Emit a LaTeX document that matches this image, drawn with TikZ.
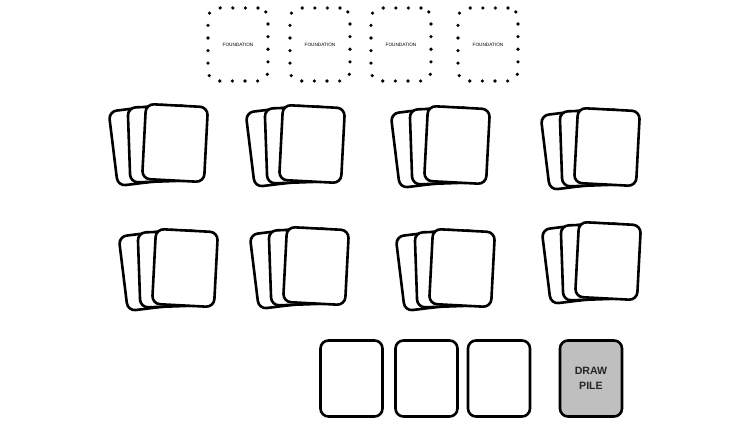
\documentclass[tikz,border=0pt]{standalone}
\usepackage{fontspec}
\setmainfont{Liberation Sans}
\begin{document}
\begin{tikzpicture}[x=1pt,y=-1pt,
  card/.style={draw=black, fill=white, line width=2.6pt, rounded corners=8pt,
    minimum width=62pt, minimum height=75pt, inner sep=0pt},
  slot/.style={draw=black, line width=3.6pt, line cap=round,
    dash pattern=on 0pt off 12.6pt, rounded corners=10pt,
    minimum width=60pt, minimum height=73pt, inner sep=0pt,
    font=\fontsize{4.7}{5}\selectfont},
  drawpile/.style={card, fill=gray!50, minimum height=76pt,
    font=\fontsize{10.6}{14.5}\selectfont\bfseries, text=black!85, align=center}]
\useasboundingbox (0,0) rectangle (750,422);
% foundations
\node[slot] (f1) at (238,44.5) {FOUNDATION};
\node[slot] (f2) at (320,44.5) {FOUNDATION};
\node[slot] (f3) at (401,44.5) {FOUNDATION};
\node[slot] (f4) at (488,44.5) {FOUNDATION};
% tableau piles
\newcommand\cardpile[3]{%
  \node[card, rotate=7] (#1a) at (#2-31,#3+2) {};
  \node[card, rotate=2] (#1b) at (#2-15,#3+1) {};
  \node[card, rotate=-3] (#1c) at (#2,#3) {};}
\cardpile{p1}{175}{143}
\cardpile{p2}{312}{144}
\cardpile{p3}{457}{145}
\cardpile{p4}{607}{147}
\cardpile{p5}{185}{268}
\cardpile{p6}{316}{266}
\cardpile{p7}{462}{268}
\cardpile{p8}{608}{261}
% bottom row
\node[card, minimum height=76pt] (w1) at (351.5,378.5) {};
\node[card, minimum height=76pt] (w2) at (426.5,378.5) {};
\node[card, minimum height=76pt] (w3) at (499,378.5) {};
\node[drawpile] (dp) at (591,378.5) {DRAW\\PILE};
\end{tikzpicture}
\end{document}
